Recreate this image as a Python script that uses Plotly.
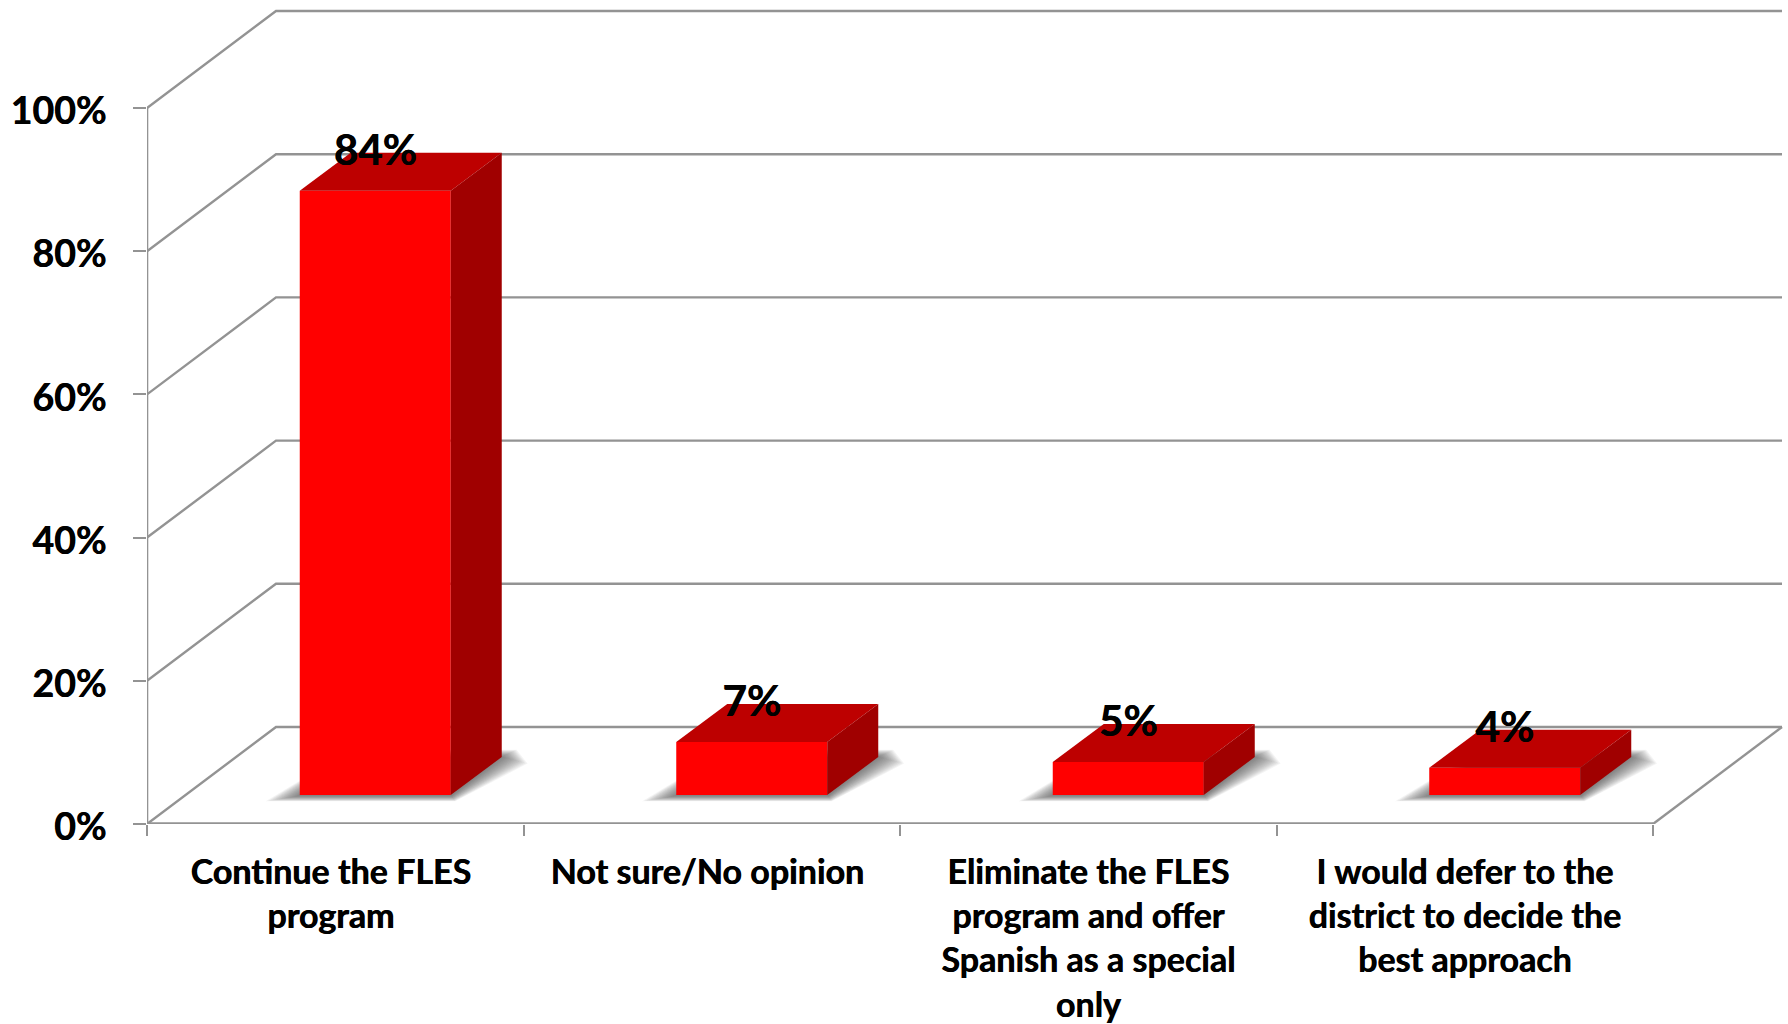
import plotly.graph_objects as go

# --- data ---
categories = ["Continue the FLES<br>program", "Not sure/No opinion",
              "Eliminate the FLES<br>program and offer<br>Spanish as a special<br>only",
              "I would defer to the<br>district to decide the<br>best approach"]
label_positions = [-0.012, 0.988, 2.0, 3.0]
values = [84.4, 7.4, 4.6, 3.8]
y_ticks = [0, 20, 40, 60, 80, 100]
y_tick_labels = ["0%", "20%", "40%", "60%", "80%", "100%"]

# --- geometry of the fake 3D box ---
PX_X, PX_Y = 376.5, 7.16
W, H = 1788, 1024
L, B = 147, H - 824
XR = [-0.5, -0.5 + (W - L) / PX_X]
YR = [0, 824 / PX_Y]
n = len(categories)
x_left, x_right = -0.5, n - 0.5
wall_dx, wall_dy = 129 / PX_X, 97 / PX_Y
bar_w = 151 / PX_X
bar_off = 40 / PX_X
bar_dx, bar_dy = 51 / PX_X, 38 / PX_Y
floor = 29 / PX_Y
centers = [i + bar_off for i in range(n)]
GRID = "#939393"
FONT = "Lato"
THICK = "0.6px 0 0 #000000"

fig = go.Figure()

def line(xs, ys, w=2.4):
    fig.add_trace(go.Scatter(x=xs, y=ys, mode="lines", line=dict(color=GRID, width=w),
                             hoverinfo="skip", showlegend=False, cliponaxis=False))

# walls and floor
for v in y_ticks:
    line([x_left, x_left + wall_dx, x_right + wall_dx],
         [v, v + wall_dy, v + wall_dy])
line([x_left, x_left], [y_ticks[0], y_ticks[-1]], 2.6)
line([x_left, x_right], [0, 0], 3.4)
line([x_right, x_right + wall_dx], [0, wall_dy], 2.4)

# soft floor shadows, stacked thin layers
for layer in range(16):
    g = (15 - layer) * 2.2
    for c in centers:
        x0, x1 = c - bar_w / 2, c + bar_w / 2
        fig.add_trace(go.Scatter(
            x=[x0 - (g + 1) / PX_X, x1 + (g * 0.1 + 1) / PX_X,
               x1 + bar_dx + (g * 0.75 + 1) / PX_X, x1 + bar_dx + (g * 0.45) / PX_X, x0 + bar_dx],
            y=[floor - (1 + g * 0.16) / PX_Y, floor - (1 + g * 0.16) / PX_Y,
               floor + bar_dy - (g * 0.2) / PX_Y, floor + bar_dy + (g * 0.22) / PX_Y,
               floor + bar_dy + (g * 0.22) / PX_Y],
            mode="lines", fill="toself", fillcolor="rgba(60,60,60,0.06)",
            line=dict(width=0), hoverinfo="skip", showlegend=False))

# bars on the overlay axes so they sit above the grid
fig.add_trace(go.Bar(x=centers, y=values, base=[floor] * n, width=bar_w,
                     marker=dict(color="#ff0000", line=dict(width=0)),
                     xaxis="x2", yaxis="y2", showlegend=False))
for c, v in zip(centers, values):
    x0, x1 = c - bar_w / 2, c + bar_w / 2
    t = floor + v
    fig.add_trace(go.Scatter(x=[x0, x1, x1 + bar_dx, x0 + bar_dx, x0],
                             y=[t, t, t + bar_dy, t + bar_dy, t],
                             mode="lines", fill="toself", fillcolor="#bd0000",
                             line=dict(width=0), xaxis="x2", yaxis="y2",
                             hoverinfo="skip", showlegend=False))
    fig.add_trace(go.Scatter(x=[x1, x1 + bar_dx, x1 + bar_dx, x1, x1],
                             y=[floor, floor + bar_dy, t + bar_dy, t, floor],
                             mode="lines", fill="toself", fillcolor="#a00000",
                             line=dict(width=0), xaxis="x2", yaxis="y2",
                             hoverinfo="skip", showlegend=False))

# value labels
fig.add_trace(go.Scatter(x=centers, y=[floor + v + bar_dy - 0.25 for v in values],
                         mode="text", text=[f"{round(v)}%" for v in values],
                         textposition="middle center",
                         textfont=dict(family=FONT, size=42, color="#000000", weight="bold", shadow=THICK),
                         xaxis="x2", yaxis="y2", showlegend=False, cliponaxis=False))

fig.update_layout(
    width=W, height=H, margin=dict(l=L, r=0, t=0, b=B, pad=0),
    paper_bgcolor="#ffffff", plot_bgcolor="#ffffff", showlegend=False, barmode="overlay",
    xaxis=dict(range=XR, showgrid=False, zeroline=False, showline=False,
               tickmode="array", tickvals=label_positions, ticktext=categories,
               ticks="", ticklabelstandoff=25, tickangle=0,
               tickfont=dict(family=FONT, size=34, color="#000000", weight="bold", shadow=THICK),
               minor=dict(tickmode="array", tickvals=[i - 0.5 for i in range(n + 1)],
                          ticks="outside", ticklen=11, tickwidth=2, tickcolor=GRID, showgrid=False)),
    yaxis=dict(range=YR, showgrid=False, zeroline=False, showline=False,
               tickmode="array", tickvals=y_ticks, ticktext=y_tick_labels,
               ticks="outside", ticklen=13, tickwidth=2.4, tickcolor=GRID, ticklabelstandoff=19,
               ticklabelshift=3,
               tickfont=dict(family=FONT, size=37.5, color="#000000", weight="bold", shadow=THICK)),
    xaxis2=dict(range=XR, overlaying="x", visible=False),
    yaxis2=dict(range=YR, overlaying="y", visible=False),
)

fig.write_html("out.html", config={"displayModeBar": False},
               post_script="document.body.style.margin='0';document.body.style.overflow='hidden';")
